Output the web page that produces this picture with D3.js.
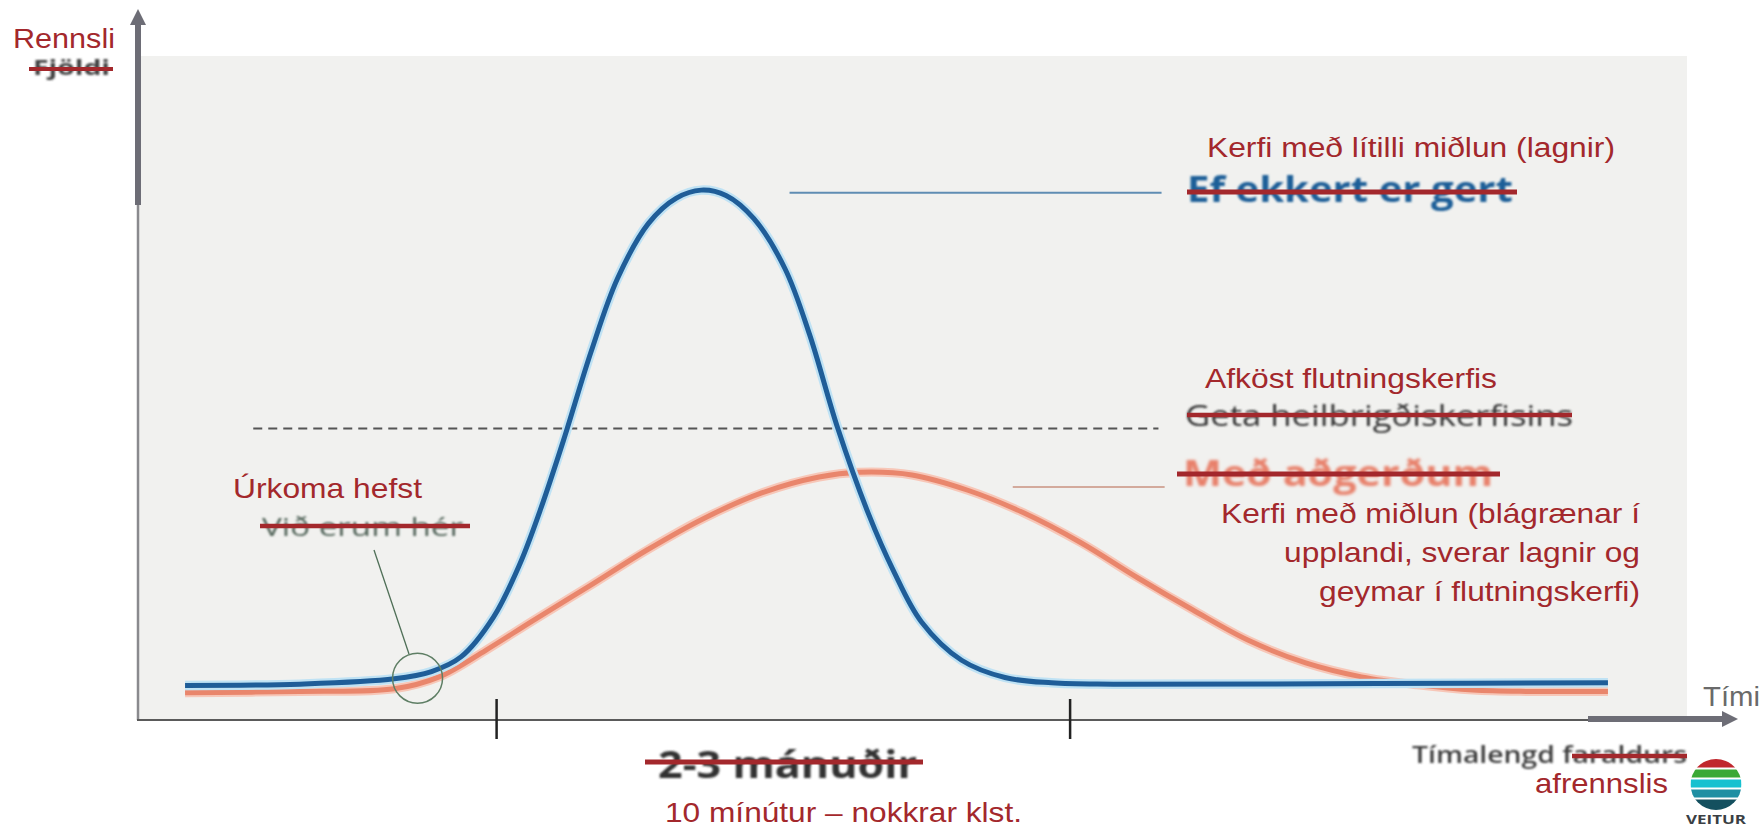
<!DOCTYPE html>
<html>
<head>
<meta charset="utf-8">
<script src="https://cdn.jsdelivr.net/npm/d3@7"></script>
<style>
  html, body { margin: 0; padding: 0; background: #ffffff; }
  svg { display: block; }
</style>
</head>
<body>
<svg id="chart" width="1763" height="829"></svg>
<script>
// ---------------- DATA ----------------
// "Ef ekkert er gert" / Kerfi með lítilli miðlun (blue)
const blueTime = [3.1, 10.5, 16.6, 19.0, 20.9, 23.0, 24.7, 26.0, 27.5, 29.3, 31.0, 33.0, 34.8, 36.4, 38.0, 39.8, 41.8, 43.4, 45.2, 47.2, 48.8, 50.6, 53.2, 56.0, 59.0, 63.0, 80.0, 94.9];
const blueFlow = [5.2, 5.4, 6.2, 7.3, 9.5, 15.5, 23.5, 31.5, 42.0, 55.5, 66.5, 74.8, 78.6, 79.8, 79.0, 75.5, 68.0, 58.0, 44.0, 31.0, 22.5, 14.8, 9.0, 6.4, 5.6, 5.4, 5.5, 5.6];
// "Með aðgerðum" / Kerfi með miðlun (orange)
const orangeTime = [3.1, 10.5, 16.6, 19.5, 22.5, 25.5, 29.2, 32.9, 36.6, 40.3, 44.0, 46.6, 50.0, 53.6, 57.2, 60.9, 64.5, 68.1, 71.7, 75.4, 79.0, 82.6, 86.2, 89.9, 94.9];
const orangeFlow = [4.1, 4.3, 4.7, 6.5, 10.5, 14.9, 20.2, 25.6, 30.4, 34.2, 36.6, 37.3, 36.9, 34.6, 31.2, 26.7, 21.5, 16.6, 12.0, 8.6, 6.5, 5.3, 4.5, 4.3, 4.3];
// capacity level (dashed) and its extent
const capacityLevel = 43.9;
const capacityExtent = [7.5, 65.9];
// label leader lines [t0, t1, level]
const blueLeader = [42.1, 66.1, 79.4];
const orangeLeader = [56.5, 66.3, 35.1];
// period ticks on time axis
const periodTicks = [23.2, 60.2];
// "Úrkoma hefst" marker
const startMarker = { t: 18.1, v: 6.3 };

// ---------------- LAYOUT ----------------
const svg = d3.select("#chart");
const x = d3.scaleLinear().domain([0, 100]).range([137, 1687]);
const y = d3.scaleLinear().domain([0, 100]).range([720, 56]);

const RED = "#a3282c";
const SANS = "'Liberation Sans', Arial, sans-serif";
const GEO = "'Open Sans', 'DejaVu Sans', sans-serif";

const defs = svg.append("defs");
defs.append("filter").attr("id", "soft").attr("x", "-5%").attr("y", "-30%").attr("width", "110%").attr("height", "160%")
  .append("feGaussianBlur").attr("stdDeviation", 1.0);
defs.append("filter").attr("id", "soft2")
  .append("feGaussianBlur").attr("stdDeviation", 1.4);

// panel background
svg.append("rect")
  .attr("x", x(0)).attr("y", y(100))
  .attr("width", x(100) - x(0)).attr("height", y(0) - y(100))
  .attr("fill", "#f1f1ef");

// dashed capacity line
svg.append("line")
  .attr("x1", x(capacityExtent[0])).attr("x2", x(capacityExtent[1]))
  .attr("y1", y(capacityLevel)).attr("y2", y(capacityLevel))
  .attr("stroke", "#555").attr("stroke-width", 2).attr("stroke-dasharray", "9,6");

// leader lines
svg.append("line")
  .attr("x1", x(blueLeader[0])).attr("x2", x(blueLeader[1]))
  .attr("y1", y(blueLeader[2])).attr("y2", y(blueLeader[2]))
  .attr("stroke", "#5f8db3").attr("stroke-width", 2);
svg.append("line")
  .attr("x1", x(orangeLeader[0])).attr("x2", x(orangeLeader[1]))
  .attr("y1", y(orangeLeader[2])).attr("y2", y(orangeLeader[2]))
  .attr("stroke", "#d3aa9c").attr("stroke-width", 2);

// curves
const line = d3.line().x(d => x(d[0])).y(d => y(d[1])).curve(d3.curveCatmullRom.alpha(0.5));
const blueData = blueTime.map((t, i) => [t, blueFlow[i]]);
const orangeData = orangeTime.map((t, i) => [t, orangeFlow[i]]);

svg.append("path").datum(orangeData).attr("d", line)
  .attr("fill", "none").attr("stroke", "#f7c7b8").attr("stroke-width", 9).attr("stroke-linecap", "butt");
svg.append("path").datum(orangeData).attr("d", line)
  .attr("fill", "none").attr("stroke", "#e9866c").attr("stroke-width", 5).attr("stroke-linecap", "butt");

svg.append("path").datum(blueData).attr("d", line)
  .attr("fill", "none").attr("stroke", "#bfe2f4").attr("stroke-width", 9.5).attr("stroke-linecap", "butt");
svg.append("path").datum(blueData).attr("d", line)
  .attr("fill", "none").attr("stroke", "#1f5d98").attr("stroke-width", 5).attr("stroke-linecap", "butt");

// axes
// y axis: thin lower part + thick arrow upper part
svg.append("line").attr("x1", x(0) + 1).attr("x2", x(0) + 1).attr("y1", 205).attr("y2", y(0))
  .attr("stroke", "#8a8a8e").attr("stroke-width", 2.5);
svg.append("line").attr("x1", x(0) + 1).attr("x2", x(0) + 1).attr("y1", 22).attr("y2", 205)
  .attr("stroke", "#6d6d76").attr("stroke-width", 6);
svg.append("path").attr("d", `M${x(0) + 1},9 L${x(0) - 7},25 L${x(0) + 9},25 Z`).attr("fill", "#6d6d76");

// x axis: thin part + thick arrow part
svg.append("line").attr("x1", x(0)).attr("x2", 1590).attr("y1", y(0)).attr("y2", y(0))
  .attr("stroke", "#5a5a5a").attr("stroke-width", 2);
svg.append("line").attr("x1", 1588).attr("x2", 1726).attr("y1", y(0) - 1).attr("y2", y(0) - 1)
  .attr("stroke", "#6d6d76").attr("stroke-width", 6);
svg.append("path").attr("d", `M1738,${y(0) - 1} L1722,${y(0) - 9} L1722,${y(0) + 7} Z`).attr("fill", "#6d6d76");

// period ticks
svg.selectAll(".ptick").data(periodTicks).join("line")
  .attr("class", "ptick")
  .attr("x1", d => x(d)).attr("x2", d => x(d))
  .attr("y1", y(0) - 21).attr("y2", y(0) + 19)
  .attr("stroke", "#222").attr("stroke-width", 2.5);

// start marker circle + pointer
svg.append("circle").attr("cx", x(startMarker.t)).attr("cy", y(startMarker.v)).attr("r", 25)
  .attr("fill", "none").attr("stroke", "#5e7e64").attr("stroke-width", 1.5);
svg.append("line").attr("x1", 374).attr("y1", 550).attr("x2", 409).attr("y2", 654)
  .attr("stroke", "#4f6f57").attr("stroke-width", 1.3);

// ---------------- TEXT ----------------
function txt(s, o) {
  const t = svg.append("text")
    .attr("x", o.x).attr("y", o.y)
    .attr("font-family", o.family || SANS)
    .attr("font-size", o.size)
    .attr("font-weight", o.weight || "normal")
    .attr("fill", o.fill || RED)
    .attr("text-anchor", o.anchor || "start")
    .text(s);
  if (o.len) t.attr("textLength", o.len).attr("lengthAdjust", "spacingAndGlyphs");
  if (o.filter) t.attr("filter", o.filter);
  return t;
}
function strike(x1, x2, yy, w) {
  svg.append("line").attr("x1", x1).attr("x2", x2).attr("y1", yy).attr("y2", yy)
    .attr("stroke", RED).attr("stroke-width", w || 4.5);
}

// old (struck) labels
txt("Fjöldi", { x: 33, y: 75, size: 22, weight: 700, family: GEO, fill: "#404040", len: 77, filter: "url(#soft)" });
strike(29, 113, 69, 4);

txt("Ef ekkert er gert", { x: 1187, y: 202, size: 36, weight: 700, family: GEO, fill: "#1f5f98", len: 326, filter: "url(#soft)" });
strike(1187, 1517, 192, 5);

txt("Geta heilbrigðiskerfisins", { x: 1185, y: 426, size: 30, weight: 400, family: GEO, fill: "#363636", len: 388, filter: "url(#soft)" });
strike(1187, 1572, 415, 4.5);

txt("Með aðgerðum", { x: 1183, y: 486, size: 36, weight: 700, family: GEO, fill: "#e8806a", len: 310, filter: "url(#soft2)" });
strike(1177, 1500, 474, 5);

txt("Við erum hér", { x: 262, y: 536, size: 26, weight: 400, family: GEO, fill: "#52655a", len: 201, filter: "url(#soft)" });
strike(260, 470, 526, 4.5);

txt("2-3 mánuðir", { x: 658, y: 778, size: 38, weight: 700, family: GEO, fill: "#333333", len: 259, filter: "url(#soft)" });
strike(645, 923, 762, 5);

txt("Tímalengd faraldurs", { x: 1412, y: 763, size: 24, weight: 600, family: GEO, fill: "#3c3c3c", len: 275, filter: "url(#soft)" });
strike(1572, 1687, 756, 4.5);

// new (red) labels
txt("Rennsli", { x: 13, y: 48, size: 28, len: 102 });
txt("Kerfi með lítilli miðlun (lagnir)", { x: 1207, y: 157, size: 27, len: 408 });
txt("Afköst flutningskerfis", { x: 1205, y: 388, size: 28, len: 292 });
txt("Kerfi með miðlun (blágrænar í", { x: 1640, y: 523, size: 28, anchor: "end", len: 419 });
txt("upplandi, sverar lagnir og", { x: 1640, y: 562, size: 28, anchor: "end", len: 356 });
txt("geymar í flutningskerfi)", { x: 1640, y: 601, size: 28, anchor: "end", len: 321 });
txt("Úrkoma hefst", { x: 233, y: 498, size: 28, len: 189 });
txt("10 mínútur – nokkrar klst.", { x: 665, y: 822, size: 28, len: 357 });
txt("afrennslis", { x: 1535, y: 793, size: 28, len: 133 });
txt("Tími", { x: 1703, y: 706, size: 28, fill: "#6a6a6a", len: 57 });

// ---------------- LOGO ----------------
const logo = { cx: 1716, cy: 784.5, r: 25.5 };
defs.append("clipPath").attr("id", "logoClip")
  .append("circle").attr("cx", logo.cx).attr("cy", logo.cy).attr("r", logo.r);
const bands = [
  { y0: 758, y1: 767.5, c: "#c0272d" },
  { y0: 769.5, y1: 777.5, c: "#3aa935" },
  { y0: 779.5, y1: 787.5, c: "#17c1d0" },
  { y0: 789.5, y1: 797.5, c: "#1f8fa3" },
  { y0: 799.5, y1: 811, c: "#14505f" }
];
svg.append("g").attr("clip-path", "url(#logoClip)")
  .selectAll("rect").data(bands).join("rect")
  .attr("x", logo.cx - logo.r).attr("width", logo.r * 2)
  .attr("y", d => d.y0).attr("height", d => d.y1 - d.y0)
  .attr("fill", d => d.c);
txt("VEITUR", { x: 1716, y: 824, size: 13, weight: 700, family: GEO, fill: "#3a3f44", anchor: "middle", len: 60 });
</script>
</body>
</html>
